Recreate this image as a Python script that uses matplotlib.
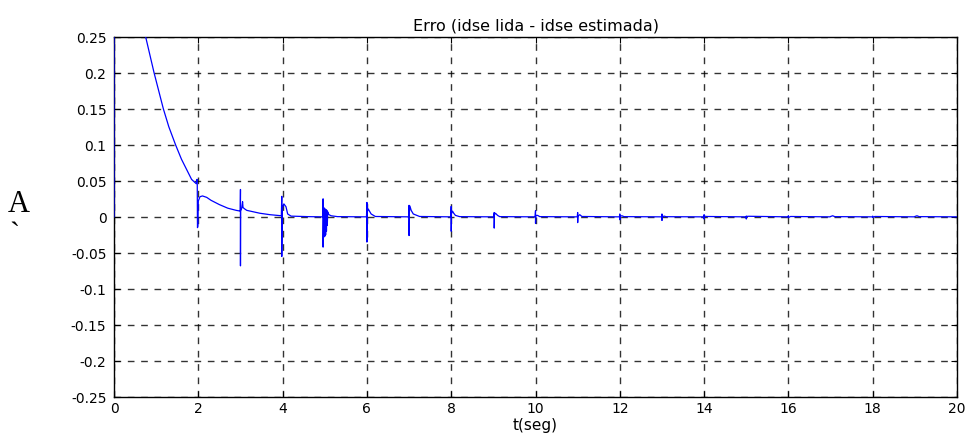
import matplotlib
matplotlib.use('Agg')
import matplotlib.pyplot as plt
import numpy as np

plt.rcParams['axes.unicode_minus'] = False

# error signal idse (read) - idse (estimated), sampled by segment
t = [0.0, 0.0, 0.35, 0.75, 0.95, 1.17, 1.30, 1.46, 1.60, 1.72, 1.84, 1.95,
     1.97, 1.975, 1.98, 1.99, 2.0, 2.04, 2.1, 2.2, 2.3, 2.5, 2.7, 2.9, 2.995,
     3.0, 3.0, 3.003, 3.03, 3.05, 3.06, 3.1, 3.15, 3.3, 3.46, 3.7, 3.97,
     3.98, 3.98, 3.99, 4.03, 4.08, 4.12, 4.2, 4.6, 4.95,
     4.96, 4.96, 4.97, 4.98, 4.99, 5.0, 5.01, 5.02, 5.03, 5.04, 5.05, 5.06,
     5.07, 5.08, 5.1, 5.15, 5.3, 5.99,
     6.0, 6.0, 6.005, 6.03, 6.06, 6.1, 6.2, 6.99,
     7.0, 7.0, 7.005, 7.02, 7.05, 7.1, 7.25, 7.99,
     8.0, 8.0, 8.005, 8.03, 8.06, 8.1, 8.2, 9.01,
     9.02, 9.02, 9.025, 9.05, 9.1, 9.15, 9.99,
     10.0, 10.0, 10.005, 10.05, 10.1, 10.99,
     11.0, 11.0, 11.005, 11.05, 11.1, 11.99,
     12.0, 12.0, 12.005, 12.05, 12.1, 12.99,
     13.0, 13.0, 13.005, 13.05, 13.1, 13.99,
     14.0, 14.0, 14.005, 14.06, 14.99,
     15.0, 15.0, 15.005, 15.05, 15.99,
     16.0, 16.0, 16.05, 16.99,
     17.0, 17.05, 17.1, 17.99,
     18.0, 18.0, 18.05, 18.99,
     19.0, 19.05, 19.1, 20.0]
err = [0.0, 0.45, 0.34, 0.25, 0.20, 0.15, 0.125, 0.10, 0.080, 0.066, 0.052, 0.046,
       0.052, 0.044, -0.015, -0.013, 0.022, 0.028, 0.029, 0.027, 0.023, 0.017, 0.012, 0.009, 0.008,
       0.038, -0.068, 0.008, 0.012, 0.021, 0.013, 0.011, 0.009, 0.007, 0.005, 0.003, 0.0015,
       0.0285, -0.055, 0.012, 0.018, 0.014, 0.004, 0.001, 0.0003, 0.0,
       0.025, -0.042, 0.0135, -0.028, 0.012, -0.027, 0.011, -0.025, 0.01, -0.02, 0.009, -0.012,
       0.007, 0.005, 0.003, 0.0015, 0.0003, 0.0,
       0.02, -0.035, 0.006, 0.011, 0.008, 0.004, 0.0005, 0.0,
       0.016, -0.026, 0.005, 0.015, 0.009, 0.004, 0.0005, 0.0,
       0.0146, -0.02, 0.004, 0.008, 0.005, 0.002, 0.0003, 0.0,
       0.006, -0.0156, 0.003, 0.005, 0.002, 0.0003, 0.0,
       0.0085, -0.009, 0.002, 0.002, 0.0003, 0.0,
       0.006, -0.008, 0.001, 0.003, 0.0005, 0.0,
       0.004, -0.004, 0.001, 0.0015, 0.0003, 0.0,
       0.004, -0.005, 0.0, 0.001, 0.0002, 0.0,
       0.003, -0.003, 0.001, 0.0005, 0.0,
       0.001, -0.003, 0.0005, 0.0008, 0.0,
       0.0015, -0.001, 0.0005, 0.0,
       0.0005, 0.0015, 0.0003, 0.0,
       0.001, -0.0008, 0.0005, 0.0,
       0.0005, 0.0015, 0.0003, 0.0]

xticks = np.arange(0, 21, 2)
yticks = np.arange(-0.25, 0.26, 0.05)
ylabels = ['-0.25', '-0.2', '-0.15', '-0.1', '-0.05', '0', '0.05', '0.1', '0.15', '0.2', '0.25']

fig = plt.figure(figsize=(9.72, 4.35), dpi=100)
ax = fig.add_axes([0.1173, 0.0851, 0.8673, 0.8282])
ax.plot(t, err, color='#0000ff', linewidth=0.9, zorder=3)

ax.set_xlim(0, 20)
ax.set_ylim(-0.25, 0.25)
ax.set_xticks(xticks)
ax.set_xticklabels([str(v) for v in xticks])
ax.set_yticks(yticks)
ax.set_yticklabels(ylabels)
ax.grid(True, color='black', linestyle=(0, (4.8, 4.8)), linewidth=1.0, alpha=0.8)
ax.tick_params(direction='in', length=4, width=0.8, top=True, right=True,
               labelsize=10, colors='black')
ax.tick_params(axis='y', pad=5.5)
ax.tick_params(axis='x', pad=3)
for s in ax.spines.values():
    s.set_linewidth(1.0)
    s.set_color('black')

ax.set_title('Erro (idse lida - idse estimada)', fontsize=11.5, pad=5)
ax.set_xlabel('t(seg)', fontsize=11, labelpad=1)

fig.text(0.0082, 0.5126, 'A', family='Liberation Serif', fontsize=22,
         ha='left', va='baseline')
fig.text(0.0098, 0.4425, '`', family='Liberation Serif', fontsize=22,
         ha='left', va='baseline')

plt.savefig('out.png', dpi=100)
